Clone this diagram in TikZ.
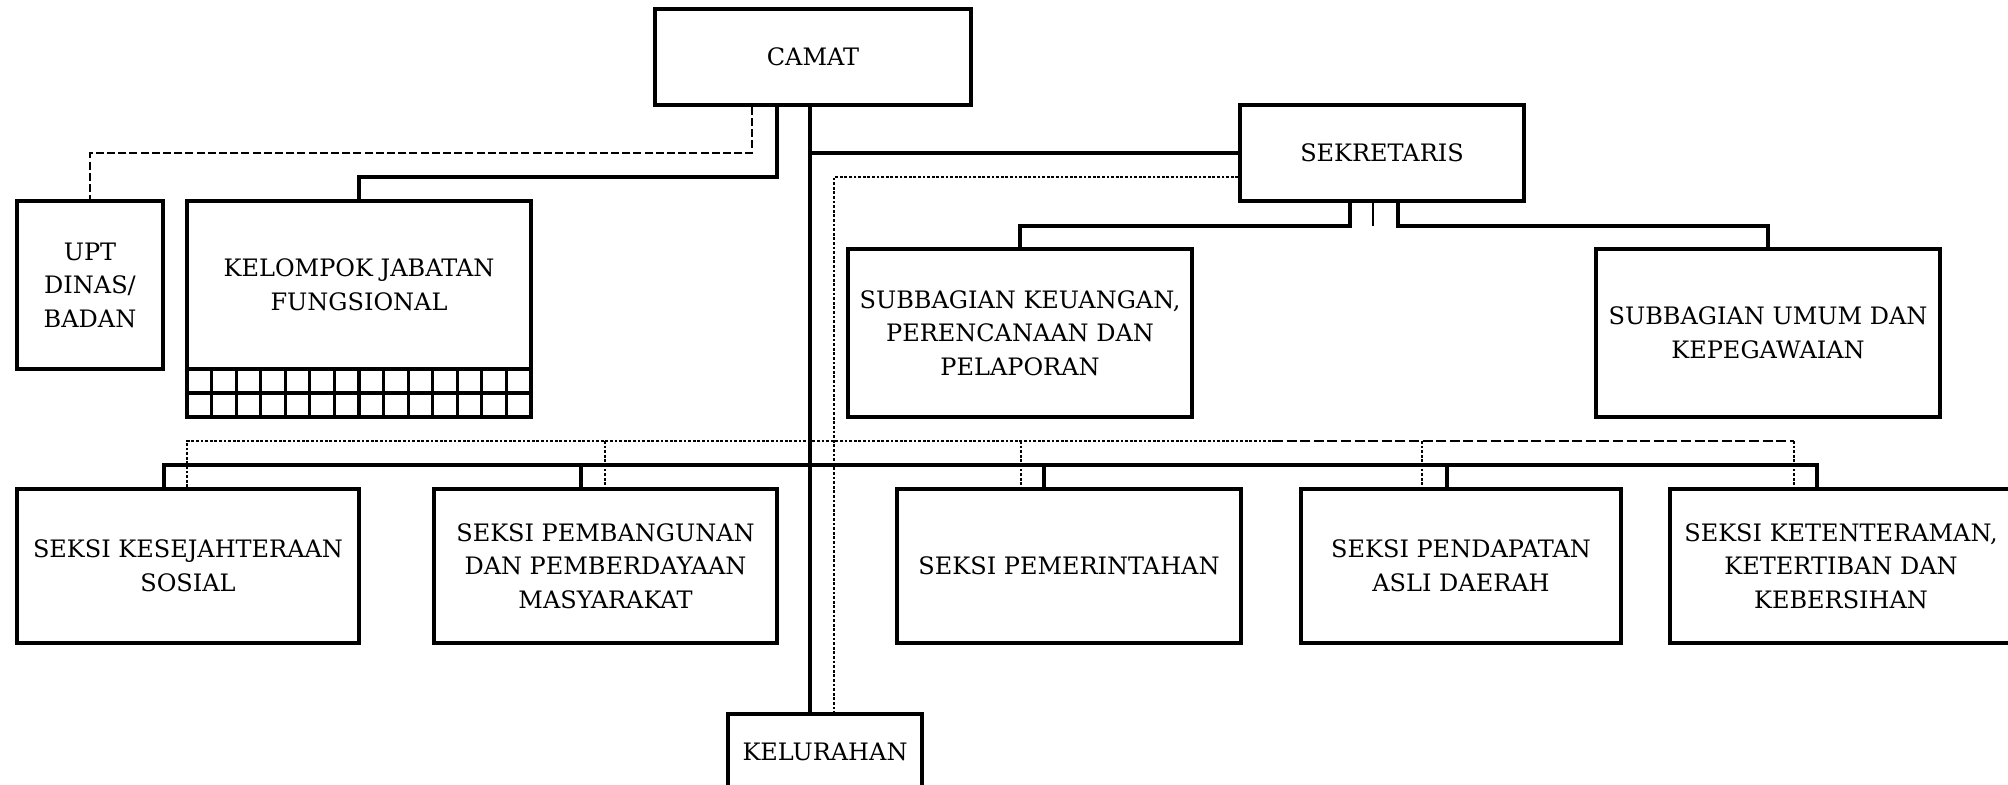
\documentclass[tikz,border=0pt]{standalone}
\usepackage{fontspec}
\setmainfont{DejaVu Serif}
\tikzset{
  box/.style={draw, line width=1.85pt, align=center, inner sep=0pt, font=\fontsize{12}{16.75}\selectfont},
  conn/.style={line width=1.55pt},
  stub/.style={line width=1.1pt},
  dashline/.style={line width=1.45pt, dash pattern=on 4pt off 1.6pt},
  longdash/.style={line width=1.45pt, dash pattern=on 5pt off 1.8pt},
  dotline/.style={line width=1.3pt, dash pattern=on 1.4pt off 0.9pt},
  gridline/.style={line width=1.6pt}
}
\begin{document}
\begin{tikzpicture}[x=0.5pt,y=-0.5pt]
\clip (0,0) rectangle (2008,785);
% boxes
\node[box, minimum width=158pt, minimum height=48pt] (camat) at (813,57) {CAMAT};
\node[box, minimum width=142pt, minimum height=48pt] (sekr) at (1382,153) {SEKRETARIS};
\node[box, minimum width=73pt, minimum height=84pt] (upt) at (90,285) {UPT\\DINAS/\\BADAN};
\node[box, minimum width=172pt, minimum height=84pt] (kjf) at (359,285) {KELOMPOK JABATAN\\FUNGSIONAL};
\node[box, minimum width=172pt, minimum height=24pt] (grid) at (359,393) {};
\foreach \i in {1,...,13} \draw[gridline] (187+\i*24.571,369) -- (187+\i*24.571,417);
\draw[gridline] (187,393) -- (531,393);
\node[box, minimum width=172pt, minimum height=84pt] (subkeu) at (1020,333) {SUBBAGIAN KEUANGAN,\\PERENCANAAN DAN\\PELAPORAN};
\node[box, minimum width=172pt, minimum height=84pt] (subum) at (1768,333) {SUBBAGIAN UMUM DAN\\KEPEGAWAIAN};
\node[box, minimum width=171pt, minimum height=77pt] (s1) at (188,566) {SEKSI KESEJAHTERAAN\\SOSIAL};
\node[box, minimum width=171.5pt, minimum height=77pt] (s2) at (605.5,566) {SEKSI PEMBANGUNAN\\DAN PEMBERDAYAAN\\MASYARAKAT};
\node[box, minimum width=172pt, minimum height=77pt] (s3) at (1069,566) {SEKSI PEMERINTAHAN};
\node[box, minimum width=160pt, minimum height=77pt] (s4) at (1461,566) {SEKSI PENDAPATAN\\ASLI DAERAH};
\node[box, minimum width=171pt, minimum height=77pt] (s5) at (1841,566) {SEKSI KETENTERAMAN,\\KETERTIBAN DAN\\KEBERSIHAN};
\node[box, minimum width=97pt, minimum height=38pt] (kelurahan) at (825,752) {KELURAHAN};
% coordinates for bends
\coordinate (cU) at (752,153);
\coordinate (cK) at (777,177);
\coordinate (mainx) at (810,153);
\coordinate (dotx) at (834,177);
\coordinate (sL) at (1350,226);
\coordinate (sM) at (1373,226);
\coordinate (sR) at (1398,226);
\coordinate (b1) at (164,465);
\coordinate (b2) at (581,465);
\coordinate (b3) at (1044,465);
\coordinate (b4) at (1447,465);
\coordinate (b5) at (1817,465);
\coordinate (d1) at (187,441);
\coordinate (d2) at (605,441);
\coordinate (d3) at (1021,441);
\coordinate (dm) at (1273,441);
\coordinate (d4) at (1422,441);
\coordinate (d5) at (1794,441);
% camat connectors
\draw[dashline] (camat.south -| cU) -- (cU) -| (upt.north);
\draw[conn] (camat.south -| cK) -- (cK) -| (kjf.north);
\draw[conn] (camat.south -| mainx) -- (kelurahan.north -| mainx);
\draw[conn] (mainx) -- (sekr.west);
\draw[dotline] (sekr.west |- dotx) -- (dotx) -- (kelurahan.north -| dotx);
% sekretaris connectors
\draw[conn] (sekr.south -| sL) -- (sL) -| (subkeu.north);
\draw[conn] (sekr.south -| sR) -- (sR) -| (subum.north);
\draw[stub] (sekr.south -| sM) -- (sM);
% solid bus
\draw[conn] (s1.north -| b1) -- (b1) -- (b5) -- (s5.north -| b5);
\draw[conn] (b2) -- (s2.north -| b2);
\draw[conn] (b3) -- (s3.north -| b3);
\draw[conn] (b4) -- (s4.north -| b4);
% dotted bus
\draw[dotline] (s1.north -| d1) -- (d1) -- (dm);
\draw[longdash] (dm) -- (d5);
\draw[dotline] (d5) -- (s5.north -| d5);
\draw[dotline] (d2) -- (s2.north -| d2);
\draw[dotline] (d3) -- (s3.north -| d3);
\draw[dotline] (d4) -- (s4.north -| d4);
\end{tikzpicture}
\end{document}
